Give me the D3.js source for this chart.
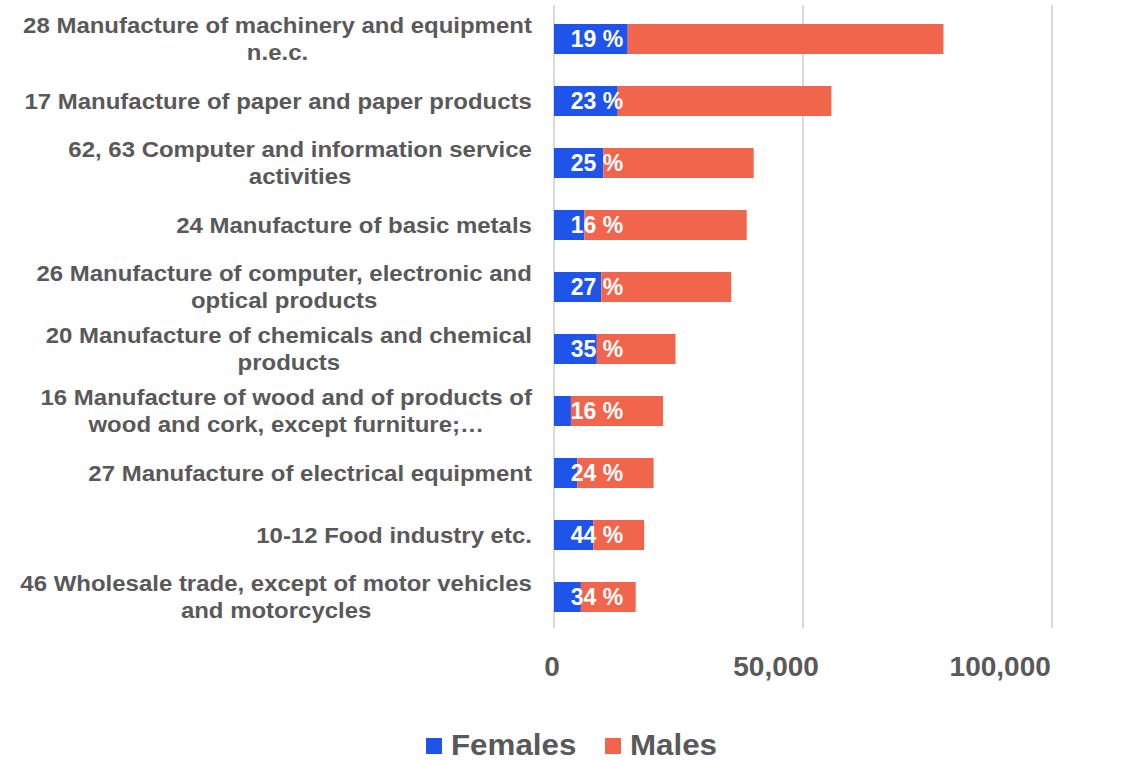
<!DOCTYPE html>
<html><head><meta charset="utf-8">
<script src="https://cdn.jsdelivr.net/npm/d3@7"></script>
<style>body{margin:0;background:#fff;} svg{display:block;font-family:"Liberation Sans",Arial,sans-serif;font-weight:bold;}</style>
</head><body>
<svg id="c" width="1137" height="760"></svg>
<script>
const categories = [
  ["28 Manufacture of machinery and equipment","n.e.c."],
  ["17 Manufacture of paper and paper products"],
  ["62, 63 Computer and information service","activities"],
  ["24 Manufacture of basic metals"],
  ["26 Manufacture of computer, electronic and","optical products"],
  ["20 Manufacture of chemicals and chemical","products"],
  ["16 Manufacture of wood and of products of","wood and cork, except furniture;…"],
  ["27 Manufacture of electrical equipment"],
  ["10-12 Food industry etc."],
  ["46 Wholesale trade, except of motor vehicles","and motorcycles"]
];
const females = [14800, 12800, 9900, 6100, 9500, 8600, 3400, 4700, 7900, 5400];
const males   = [63400, 42900, 30200, 32600, 26100, 15800, 18500, 15300, 10200, 11000];
const femaleShare = ["19 %","23 %","25 %","16 %","27 %","35 %","16 %","24 %","44 %","34 %"];
const tickValues = [0, 50000, 100000];
const seriesNames = ["Females","Males"];
const colors = ["#1f54eb","#f2654d"];

const svg = d3.select("#c");
const x = d3.scaleLinear().domain([0,115000]).range([554, 554 + 498*1.15]);
const y = d3.scaleBand().domain(d3.range(categories.length)).range([8, 628]).paddingInner(0.516).paddingOuter(0.258);
const textCol = "#595959";

// gridlines
svg.append("g").selectAll("line").data(tickValues).join("line")
  .attr("x1", d=>x(d)).attr("x2", d=>x(d)).attr("y1", 5).attr("y2", 628)
  .attr("stroke", "#d9d9d9").attr("stroke-width", 2);

// tick labels
const tickPos = v => x(0) - 2 + (x(v) - x(0)) * 0.9;
svg.append("g").selectAll("text").data(tickValues).join("text")
  .attr("x", d=>tickPos(d)).attr("y", 676).attr("text-anchor","middle")
  .attr("font-size", 28).attr("fill", textCol).text(d=>d3.format(",")(d));

// bars
const stackData = categories.map((c,i)=>({i, Females: females[i], Males: males[i]}));
const stack = d3.stack().keys(seriesNames)(stackData);
svg.append("g").selectAll("g").data(stack).join("g").attr("fill",(d,i)=>colors[i])
  .selectAll("rect").data(d=>d).join("rect")
  .attr("x", d=>x(d[0])).attr("width", d=>x(d[1])-x(d[0]))
  .attr("y", d=>y(d.data.i)).attr("height", y.bandwidth());

// share labels
svg.append("g").selectAll("text").data(femaleShare).join("text")
  .attr("x", x(0)+43).attr("y", (d,i)=>y(i)+y.bandwidth()/2).attr("dy","0.36em")
  .attr("text-anchor","middle").attr("font-size", 23).attr("fill","#fff").text(d=>d);

// category labels
const right = 532;
const lineH = 27;
const sx = 1.09;
categories.forEach((lines,i)=>{
  const cy = y(i)+y.bandwidth()/2;
  const g = svg.append("g");
  const texts = lines.map((l,k)=> g.append("text")
    .attr("x", 0).attr("y", (k - (lines.length-1)/2)*lineH).attr("dy","0.36em")
    .attr("text-anchor","middle")
    .attr("font-size", 22).attr("fill", textCol).text(l));
  const maxW = d3.max(texts, t=>t.node().getComputedTextLength());
  g.attr("transform", `translate(${right - maxW*sx/2},${cy}) scale(${sx},1)`);
});

// legend
const legX = [426, 605];
seriesNames.forEach((n,i)=>{
  svg.append("rect").attr("x", legX[i]).attr("y", 738).attr("width",16).attr("height",16).attr("fill",colors[i]);
  svg.append("text").attr("transform", `translate(${legX[i]+25},755) scale(1.08,1)`)
    .attr("font-size", 29).attr("fill", textCol).text(n);
});
</script>
</body></html>
